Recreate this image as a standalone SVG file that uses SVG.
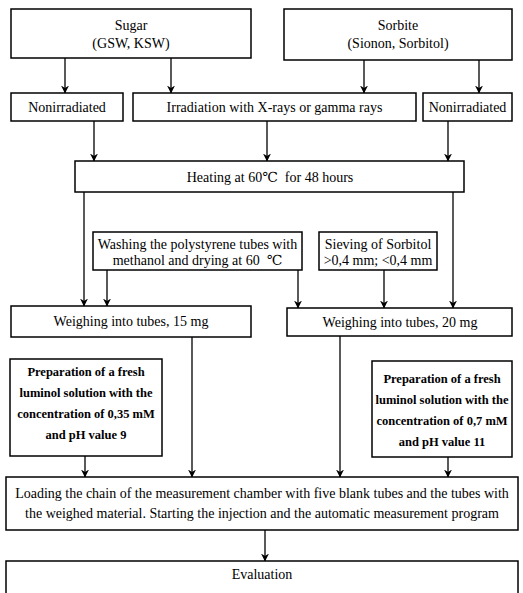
<svg xmlns="http://www.w3.org/2000/svg" width="523" height="593" viewBox="0 0 523 593">
<style>
.box{fill:#fff;stroke:#000;stroke-width:1.5}
.t{font-family:"Liberation Serif","DejaVu Serif","Noto Sans CJK SC",serif;font-size:14px;fill:#000;text-anchor:middle}
.b{font-weight:bold;font-size:12.5px}
.c{stroke:#000;stroke-width:1.3;fill:none;marker-end:url(#ah)}
</style>
<defs>
<marker id="ah" markerWidth="8" markerHeight="10" refX="7.5" refY="4" orient="auto" markerUnits="userSpaceOnUse" viewBox="0 0 8 8">
<path d="M0,0 L8,4 L0,8 L2.5,4 z" fill="#000"/>
</marker>
</defs>
<rect width="523" height="593" fill="#fff"/>
<g id="connectors">
<line class="c" x1="65" y1="58" x2="65" y2="93"/>
<line class="c" x1="171" y1="58" x2="171" y2="93"/>
<line class="c" x1="364" y1="60" x2="364" y2="93"/>
<line class="c" x1="479" y1="60" x2="479" y2="93"/>
<line class="c" x1="94" y1="121" x2="94" y2="161"/>
<line class="c" x1="267" y1="121" x2="267" y2="161"/>
<line class="c" x1="448" y1="121" x2="448" y2="161"/>
<line class="c" x1="84" y1="192" x2="84" y2="306"/>
<line class="c" x1="453" y1="192" x2="453" y2="308"/>
<line class="c" x1="107" y1="270" x2="107" y2="306"/>
<line class="c" x1="298" y1="270" x2="298" y2="308"/>
<line class="c" x1="384" y1="270" x2="384" y2="308"/>
<line class="c" x1="192" y1="337" x2="192" y2="477"/>
<line class="c" x1="85" y1="456" x2="85" y2="477"/>
<line class="c" x1="340" y1="336" x2="340" y2="477"/>
<line class="c" x1="448" y1="457" x2="448" y2="477"/>
<line class="c" x1="265" y1="530" x2="265" y2="561"/>
</g>
<g id="sugar"><rect class="box" x="11" y="9" width="240" height="49"/>
<text class="t" x="131" y="30">Sugar</text><text class="t" x="131" y="48">(GSW, KSW)</text></g>
<g id="sorbite"><rect class="box" x="284" y="9" width="228" height="51"/>
<text class="t" x="398" y="30">Sorbite</text><text class="t" x="398" y="48">(Sionon, Sorbitol)</text></g>
<g id="nonirr1"><rect class="box" x="11" y="93" width="112" height="28"/>
<text class="t" x="67" y="111.5">Nonirradiated</text></g>
<g id="irr"><rect class="box" x="133" y="93" width="283" height="28"/>
<text class="t" x="274.5" y="111.5">Irradiation with X-rays or gamma rays</text></g>
<g id="nonirr2"><rect class="box" x="423" y="93" width="89" height="28"/>
<text class="t" x="467.5" y="111.5">Nonirradiated</text></g>
<g id="heating"><rect class="box" x="75" y="161" width="389" height="31"/>
<text class="t" x="270" y="181.5">Heating at 60℃&#160; for 48 hours</text></g>
<g id="washing"><rect class="box" x="93" y="232" width="209" height="38"/>
<text class="t" x="197.5" y="249">Washing the polystyrene tubes with</text>
<text class="t" x="197.5" y="265">methanol and drying at 60&#160; ℃</text></g>
<g id="sieving"><rect class="box" x="319" y="232" width="118" height="38"/>
<text class="t" x="378" y="249">Sieving of Sorbitol</text>
<text class="t" x="378" y="265">&gt;0,4 mm; &lt;0,4 mm</text></g>
<g id="weigh15"><rect class="box" x="11" y="306" width="240" height="31"/>
<text class="t" x="131" y="326">Weighing into tubes, 15 mg</text></g>
<g id="weigh20"><rect class="box" x="287" y="308" width="225" height="28"/>
<text class="t" x="400" y="327">Weighing into tubes, 20 mg</text></g>
<g id="prep1"><rect class="box" x="10" y="359" width="152" height="97"/>
<text class="t b" x="86" y="376">Preparation of a fresh</text>
<text class="t b" x="86" y="397">luminol solution with the</text>
<text class="t b" x="86" y="418">concentration of 0,35 mM</text>
<text class="t b" x="86" y="439">and pH value 9</text></g>
<g id="prep2"><rect class="box" x="372" y="361" width="140" height="96"/>
<text class="t b" x="442" y="383">Preparation of a fresh</text>
<text class="t b" x="442" y="404">luminol solution with the</text>
<text class="t b" x="442" y="425">concentration of 0,7 mM</text>
<text class="t b" x="442" y="446">and pH value 11</text></g>
<g id="loading"><rect class="box" x="6" y="477" width="512" height="53"/>
<text class="t" x="262" y="498">Loading the chain of the measurement chamber with five blank tubes and the tubes with</text>
<text class="t" x="262" y="518">the weighed material. Starting the injection and the automatic measurement program</text></g>
<g id="evaluation"><rect class="box" x="6" y="561" width="512" height="50"/>
<text class="t" x="262" y="579">Evaluation</text></g>
</svg>
